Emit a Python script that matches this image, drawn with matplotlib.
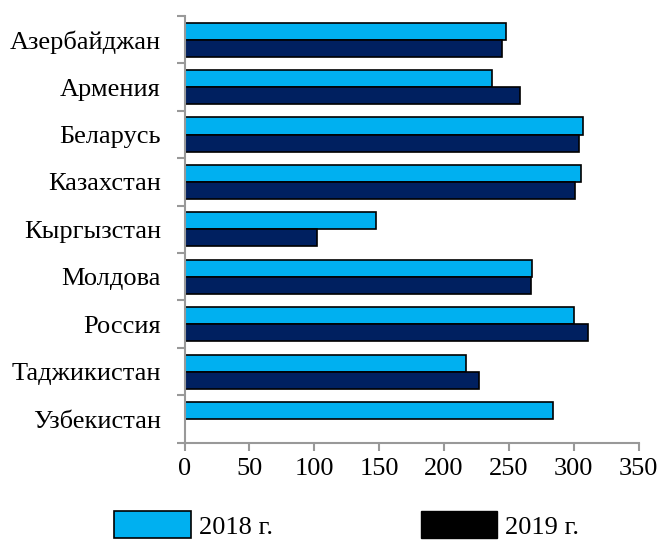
import numpy as np
import matplotlib.pyplot as plt
from matplotlib.patches import Patch

plt.rcParams['font.family'] = ['Liberation Serif', 'DejaVu Serif']

countries = ['Азербайджан', 'Армения', 'Беларусь', 'Казахстан', 'Кыргызстан',
             'Молдова', 'Россия', 'Таджикистан', 'Узбекистан']
values_2018 = [248, 237, 307, 306, 148, 268, 300, 217, 284]
values_2019 = [245, 259, 304, 301, 102, 267, 311, 227, 0]

c2018 = '#00B0F0'
c2019 = '#002060'

fig = plt.figure(figsize=(6.58, 5.43), dpi=100)
ax = fig.add_axes([0.2804, 0.1847, 0.6900, 0.7858])

y = np.arange(len(countries))
h = 0.36
ax.barh(y - h / 2, values_2018, height=h, color=c2018, edgecolor='black', linewidth=1.2)
ax.barh(y + h / 2, values_2019, height=h, color=c2019, edgecolor='black', linewidth=1.2)

ax.set_ylim(len(countries) - 0.5, -0.5)
ax.set_xlim(0, 350)
ax.set_xticks(np.arange(0, 351, 50))

# boundary ticks on y axis, labels in the middle of each group
ax.set_yticks(np.arange(-0.5, len(countries), 1))
ax.set_yticklabels([])
ax.set_yticks(y, minor=True)
ax.set_yticklabels(countries, minor=True)
ax.tick_params(axis='y', which='major', length=6, color='#999999', width=1.5)
ax.tick_params(axis='y', which='minor', length=0, pad=17, labelsize=19)
ax.tick_params(axis='x', length=6, color='#999999', width=1.5, labelsize=19, pad=5)

for s in ['top', 'right']:
    ax.spines[s].set_visible(False)
for s in ['left', 'bottom']:
    ax.spines[s].set_color('#999999')
    ax.spines[s].set_linewidth(1.5)

handles = [Patch(facecolor=c2018, edgecolor='black', linewidth=1.2, label='2018 г.'),
           Patch(facecolor='black', edgecolor='black', label='2019 г.')]
fig.legend(handles=handles, loc='upper center', bbox_to_anchor=(0.527, 0.078),
           ncol=2, frameon=False, fontsize=19, handlelength=2.9, handleheight=1.2,
           handletextpad=0.3, columnspacing=5.6, borderaxespad=0)

fig.savefig('out.png', dpi=100)
